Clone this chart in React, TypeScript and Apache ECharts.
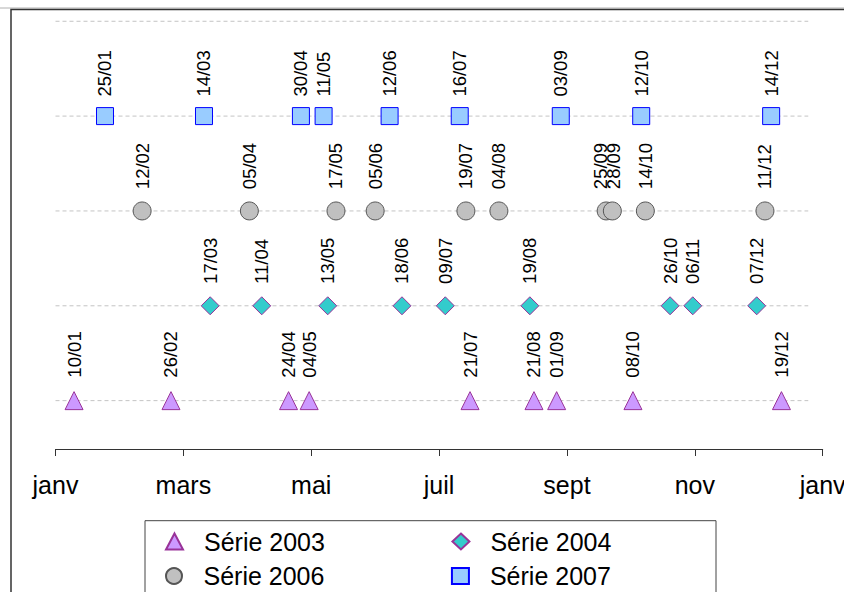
import React, { useEffect, useRef } from "react";
import * as echarts from "echarts";

// Tick labels (ticks every 62 days from 1 January)
const monthLabels = ["janv", "mars", "mai", "juil", "sept", "nov", "janv"];
const tickStep = 62;

// Rows (y positions of series), top row is empty
const rows = [1, 2, 3, 4, 5];

// Series dates (dd/mm)
const serie2003 = ["10/01", "26/02", "24/04", "04/05", "21/07", "21/08", "01/09", "08/10", "19/12"];
const serie2004 = ["17/03", "11/04", "13/05", "18/06", "09/07", "19/08", "26/10", "06/11", "07/12"];
const serie2006 = ["12/02", "05/04", "17/05", "05/06", "19/07", "04/08", "25/09", "28/09", "14/10", "11/12"];
const serie2007 = ["25/01", "14/03", "30/04", "11/05", "12/06", "16/07", "03/09", "12/10", "14/12"];

// label nudges for crowded labels (screen x shift)
const labelNudge: Record<string, number> = { "25/09": -6, "28/09": 1 };

const cumDays = [0, 31, 59, 90, 120, 151, 181, 212, 243, 273, 304, 334];
function dayOffset(s: string): number {
  const [d, m] = s.split("/").map(Number);
  return cumDays[m - 1] + d - 1;
}

const FONT = "'Liberation Sans', Arial, sans-serif";

export default function App() {
  const ref = useRef<HTMLDivElement>(null);
  useEffect(() => {
    if (!ref.current) return;
    const chart = echarts.init(ref.current, null, { renderer: "svg" });

    const mk = (
      name: string,
      dates: string[],
      row: number,
      symbol: string,
      size: number,
      fill: string,
      stroke: string,
      dist: number
    ) => ({
      name,
      type: "scatter",
      symbol,
      symbolSize: size,
      z: 5,
      itemStyle: { color: fill, borderColor: stroke, borderWidth: 1, opacity: 1 },
      label: {
        show: true,
        position: "top",
        rotate: 90,
        align: "left",
        verticalAlign: "middle",
        distance: dist,
        formatter: "{b}",
        fontFamily: FONT,
        fontSize: 18.5,
        color: "#000",
      },
      emphasis: { disabled: true },
      data: dates.map((s) =>
        labelNudge[s] !== undefined
          ? { name: s, value: [dayOffset(s), row], label: { offset: [0, labelNudge[s]] } }
          : { name: s, value: [dayOffset(s), row] }
      ),
    });

    const gridLines = rows.map((r) => ({
      type: "line",
      silent: true,
      symbol: "none",
      z: 1,
      lineStyle: { color: "#c4c4c4", width: 1, type: [4, 3] },
      data: [
        [0, r],
        [365, r],
      ],
    }));

    const legendCommon = {
      left: 165,
      orient: "horizontal",
      itemGap: 126.5,
      itemWidth: 17,
      itemHeight: 16,
      padding: 0,
      selectedMode: false,
      textStyle: {
        fontFamily: FONT,
        fontSize: 25,
        color: "#000",
        padding: [0, 0, 0, 16],
        lineHeight: 30,
      },
    };

    chart.setOption({
      animation: false,
      backgroundColor: "#fff",
      grid: { left: 55.5, right: 21.3, top: 2.3, bottom: 143, outerBoundsMode: "none", containLabel: false },
      xAxis: {
        type: "value",
        min: 0,
        max: 372,
        interval: tickStep,
        axisLine: { show: true, lineStyle: { color: "#333", width: 1 } },
        axisTick: { show: true, length: 7, lineStyle: { color: "#333" } },
        splitLine: { show: false },
        axisLabel: {
          fontFamily: FONT,
          fontSize: 25,
          color: "#000",
          margin: 23,
          formatter: (v: number) => monthLabels[Math.round(v / tickStep)] ?? "",
        },
      },
      yAxis: { type: "value", min: 0.49, max: 5.2, show: false },
      legend: [
        { ...legendCommon, top: 526.5, data: ["Série 2003", "Série 2004"] },
        { ...legendCommon, top: 561, data: ["Série 2006", "Série 2007"] },
      ],
      graphic: [
        {
          type: "line",
          shape: { x1: 0, y1: 8, x2: 844, y2: 8 },
          style: { stroke: "#b0b0b0", lineWidth: 1 },
          silent: true,
        },
        {
          type: "rect",
          shape: { x: 11, y: 9.5, width: 900, height: 700 },
          style: { fill: "none", stroke: "#333", lineWidth: 1.5 },
          silent: true,
        },
        {
          type: "rect",
          shape: { x: 145, y: 520.7, width: 571, height: 100 },
          style: { fill: "#fff", stroke: "#444", lineWidth: 1 },
          silent: true,
          z: -1,
        },
      ],
      series: [
        ...gridLines,
        mk("Série 2003", serie2003, 1, "triangle", 18, "#cc99ff", "#993399", 13.5),
        mk("Série 2004", serie2004, 2, "diamond", 18, "#33cccc", "#993399", 12.4),
        mk("Série 2006", serie2006, 3, "circle", 18, "#c0c0c0", "#555555", 12.3),
        mk("Série 2007", serie2007, 4, "rect", 17, "#99ccff", "#0000ff", 10.5),
      ],
    });
    return () => chart.dispose();
  }, []);
  return (
    <div
      ref={ref}
      style={{ position: "fixed", left: 0, top: 0, width: 844, height: 592, background: "#fff" }}
    />
  );
}
